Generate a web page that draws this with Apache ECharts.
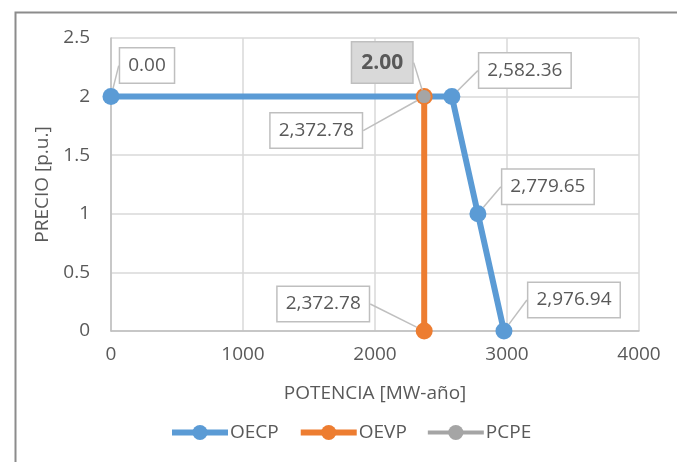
<!DOCTYPE html>
<html>
<head>
<meta charset="utf-8">
<style>
  html, body { margin: 0; padding: 0; background: #ffffff; }
  #chart { width: 677px; height: 462px; }
</style>
<script src="https://cdn.jsdelivr.net/npm/echarts@6/dist/echarts.min.js"></script>
</head>
<body>
<div id="chart"></div>
<script>
// Curva de oferta (OECP), oferta vertical (OEVP) y punto de cierre (PCPE)
const potenciaOECP = [0, 2582.36, 2779.65, 2976.94];
const precioOECP   = [2, 2, 1, 0];
const potenciaOEVP = [2372.78, 2372.78];
const precioOEVP   = [2, 0];
const potenciaPCPE = [2372.78];
const precioPCPE   = [2];

const xTicks = [0, 1000, 2000, 3000, 4000];
const yTicks = [0, 0.5, 1, 1.5, 2, 2.5];

// Desplazamiento (px) de cada etiqueta respecto de su punto
const offsetsOECP = [[36, -31], [73, -26], [70, -27], [70, -31]];
const offsetsOEVP = [[-108, 34], [-101, -27]];
const offsetsPCPE = [[-42, -34]];

const FONT = '"Open Sans", "Liberation Sans", sans-serif';
const TXT = '#595959';
const FS = 19;

function fmtMiles(v) {
  const fixed = v.toFixed(2);
  const parts = fixed.split('.');
  parts[0] = parts[0].replace(/\B(?=(\d{3})+(?!\d))/g, ',');
  return parts.join('.');
}

function pares(xs, ys) {
  return xs.map((x, i) => [x, ys[i]]);
}

const calloutLabel = {
  show: true,
  position: 'inside',
  fontFamily: FONT,
  fontSize: FS,
  color: TXT,
  backgroundColor: '#ffffff',
  borderColor: '#bfbfbf',
  borderWidth: 1.5,
  padding: [6, 8, 5, 8],
  lineHeight: 23
};
const calloutLine = {
  show: true,
  lineStyle: { color: '#bfbfbf', width: 1.5 }
};

function layoutFrom(offsets) {
  return function (p) {
    const o = offsets[p.dataIndex];
    return { dx: o[0], dy: o[1] };
  };
}

const chart = echarts.init(document.getElementById('chart'), null, { renderer: 'canvas' });

chart.setOption({
  animation: false,
  backgroundColor: '#ffffff',
  textStyle: { fontFamily: FONT },
  graphic: [{
    type: 'rect',
    left: 13, top: 10,
    shape: { width: 700, height: 480 },
    style: { fill: 'none', stroke: '#8c8c8c', lineWidth: 2 },
    silent: true, z: -10
  }],
  grid: { left: 111, right: 38, top: 38, bottom: 131 },
  legend: {
    left: 169,
    top: 423,
    padding: 0,
    itemWidth: 56,
    itemHeight: 19,
    itemGap: 19,
    lineStyle: { width: 6 },
    textStyle: { fontFamily: FONT, fontSize: FS, color: TXT, padding: [0, 0, 0, -3] },
    data: [
      { name: 'OECP' },
      { name: 'OEVP' },
      { name: 'PCPE', lineStyle: { width: 4 } }
    ]
  },
  xAxis: {
    type: 'value',
    min: xTicks[0],
    max: xTicks[xTicks.length - 1],
    interval: xTicks[1] - xTicks[0],
    name: 'POTENCIA [MW-año]',
    nameLocation: 'middle',
    nameGap: 53,
    nameTextStyle: { fontFamily: FONT, fontSize: FS, color: TXT },
    axisLine: { show: true, lineStyle: { color: '#bfbfbf', width: 1.5 } },
    axisTick: { show: false },
    axisLabel: { fontFamily: FONT, fontSize: FS, color: TXT, margin: 14, formatter: v => String(v) },
    splitLine: { show: true, lineStyle: { color: '#d9d9d9', width: 1.5 } }
  },
  yAxis: {
    type: 'value',
    min: yTicks[0],
    max: yTicks[yTicks.length - 1],
    interval: yTicks[1] - yTicks[0],
    name: 'PRECIO [p.u.]',
    nameLocation: 'middle',
    nameGap: 58,
    nameTextStyle: { fontFamily: FONT, fontSize: FS, color: TXT },
    axisLine: { show: true, lineStyle: { color: '#bfbfbf', width: 1.5 } },
    axisTick: { show: false },
    axisLabel: { fontFamily: FONT, fontSize: FS, color: TXT, margin: 21, formatter: v => String(v) },
    splitLine: { show: true, lineStyle: { color: '#d9d9d9', width: 1.5 } }
  },
  series: [
    {
      name: 'OECP',
      type: 'line',
      data: pares(potenciaOECP, precioOECP),
      color: '#5b9bd5',
      lineStyle: { width: 6, color: '#5b9bd5' },
      symbol: 'circle',
      symbolSize: 17,
      itemStyle: { color: '#5b9bd5' },
      label: Object.assign({}, calloutLabel, { formatter: p => fmtMiles(p.value[0]) }),
      labelLine: calloutLine,
      labelLayout: layoutFrom(offsetsOECP),
      z: 2
    },
    {
      name: 'OEVP',
      type: 'line',
      data: pares(potenciaOEVP, precioOEVP),
      color: '#ed7d31',
      lineStyle: { width: 6, color: '#ed7d31' },
      symbol: 'circle',
      symbolSize: 17,
      itemStyle: { color: '#ed7d31' },
      label: Object.assign({}, calloutLabel, { formatter: p => fmtMiles(p.value[0]) }),
      labelLine: calloutLine,
      labelLayout: layoutFrom(offsetsOEVP),
      z: 3
    },
    {
      name: 'PCPE',
      type: 'line',
      data: pares(potenciaPCPE, precioPCPE),
      color: '#a5a5a5',
      lineStyle: { width: 4, color: '#a5a5a5' },
      symbol: 'circle',
      symbolSize: 13,
      itemStyle: { color: '#a5a5a5' },
      label: Object.assign({}, calloutLabel, {
        formatter: p => p.value[1].toFixed(2),
        fontSize: 21,
        fontWeight: 'bold',
        backgroundColor: '#d9d9d9',
        padding: [8, 9, 6, 9],
        lineHeight: 26
      }),
      labelLine: calloutLine,
      labelLayout: layoutFrom(offsetsPCPE),
      z: 4
    }
  ]
});
</script>
</body>
</html>
